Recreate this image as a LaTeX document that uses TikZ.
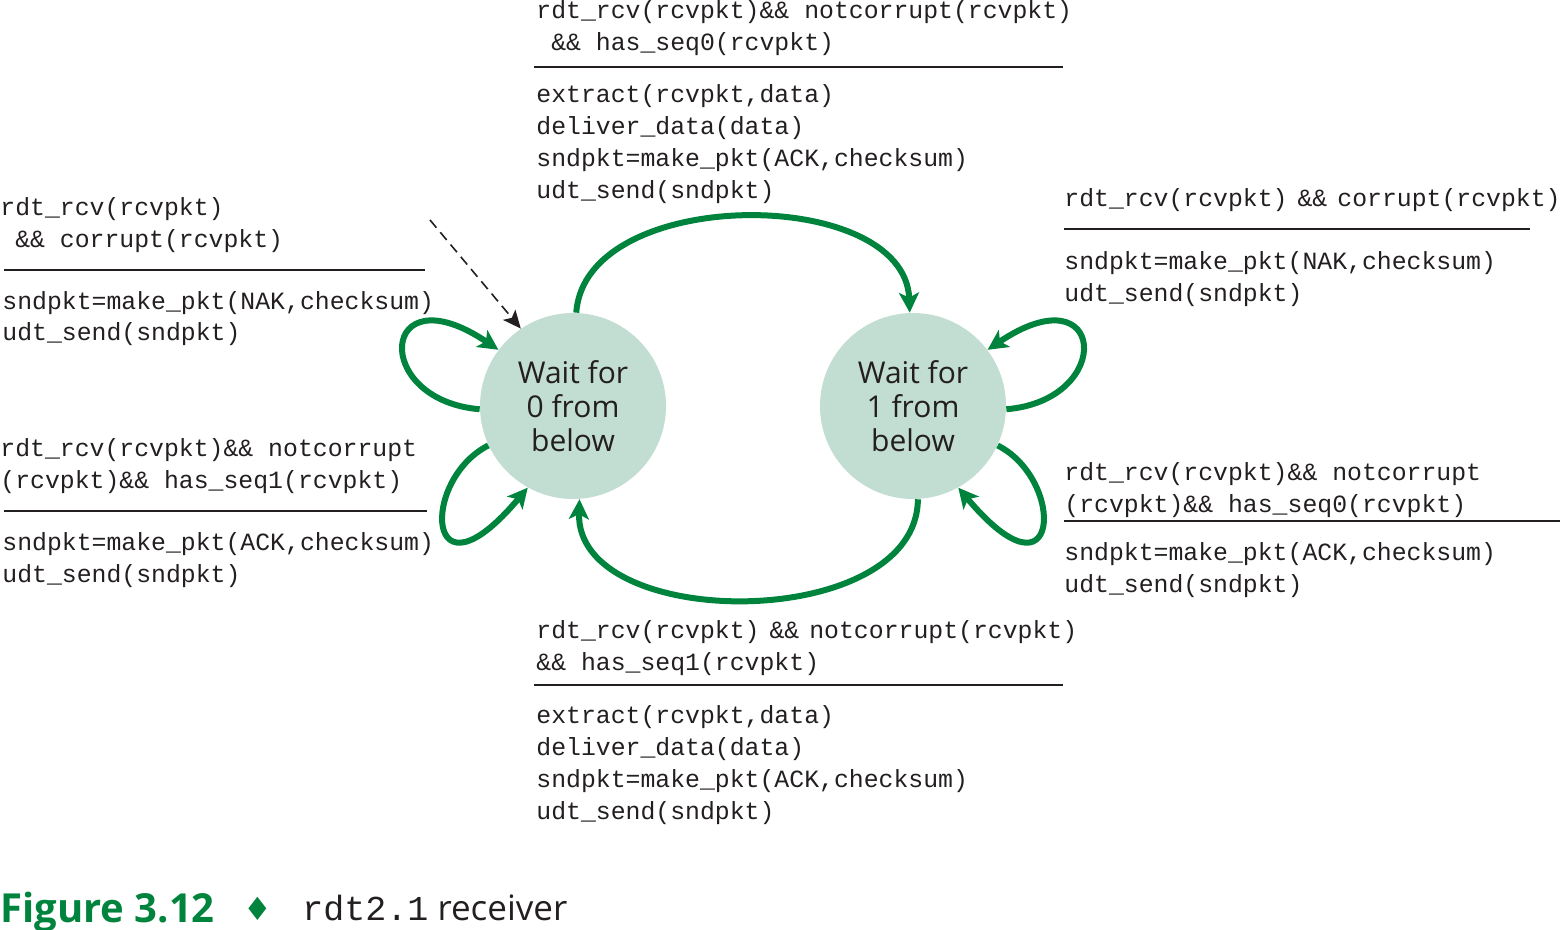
\documentclass[tikz,border=0pt]{standalone}
\usepackage{fontspec}
\setmainfont{Open Sans}
\setsansfont{Open Sans}
\setmonofont{Liberation Mono}
\newfontfamily\symbolfont{DejaVu Sans}
\usepackage{xcolor}
\usetikzlibrary{arrows.meta, calc, positioning}
\definecolor{fsmgreen}{HTML}{00843D}
\definecolor{statefill}{HTML}{C2DDD2}
\definecolor{inkblack}{HTML}{231F20}
\newcommand{\tsp}{\hspace{5pt}}

\tikzset{
  state/.style={circle, fill=statefill, minimum size=93pt, inner sep=0pt,
    align=center, text=inkblack, font=\fontsize{15}{17}\selectfont},
  trans/.style={draw=fsmgreen, line width=3pt,
    -{Stealth[length=10pt, width=10pt, inset=2.5pt]}},
  % anchored at the baseline of the last line
  code/.style={anchor=base west, inner sep=0pt, align=left, text=inkblack,
    font=\ttfamily\fontsize{12.4}{16}\selectfont},
  guardrule/.style={draw=inkblack, line width=1pt},
}

\begin{document}
\begin{tikzpicture}[x=0.5pt, y=-0.5pt]
\useasboundingbox (0,0) rectangle (1561,930);

\node[state] (W0) at (573,406) {Wait for\\0 from\\below};
\node[state] (W1) at (913,406) {Wait for\\1 from\\below};

% guards and actions
\node[code] (g01) at (536,51) {rdt\_rcv(rcvpkt)\&\&~notcorrupt(rcvpkt)\\\hphantom{x}\&\&~has\_seq0(rcvpkt)};
\draw[guardrule] (534,67) -- (1063,67);
\node[code] (a01) at (536,199) {extract(rcvpkt,data)\\deliver\_data(data)\\sndpkt=make\_pkt(ACK,checksum)\\udt\_send(sndpkt)};

\node[code] (g00) at (0,248) {rdt\_rcv(rcvpkt)\\\hphantom{x}\&\&~corrupt(rcvpkt)};
\draw[guardrule] (4,270) -- (425,270);
\node[code] (a00) at (2,341) {sndpkt=make\_pkt(NAK,checksum)\\udt\_send(sndpkt)};

\node[code] (g0d) at (0,488) {rdt\_rcv(rcvpkt)\&\&~notcorrupt\\(rcvpkt)\&\&~has\_seq1(rcvpkt)};
\draw[guardrule] (4,511) -- (427,511);
\node[code] (a0d) at (2,582) {sndpkt=make\_pkt(ACK,checksum)\\udt\_send(sndpkt)};

\node[code] (g11) at (1064,207) {rdt\_rcv(rcvpkt)\tsp\&\&\tsp corrupt(rcvpkt)};
\draw[guardrule] (1064,229) -- (1530,229);
\node[code] (a11) at (1064,301) {sndpkt=make\_pkt(NAK,checksum)\\udt\_send(sndpkt)};

\node[code] (g1d) at (1064,512) {rdt\_rcv(rcvpkt)\&\&~notcorrupt\\(rcvpkt)\&\&~has\_seq0(rcvpkt)};
\draw[guardrule] (1064,521) -- (1560,521);
\node[code] (a1d) at (1064,592) {sndpkt=make\_pkt(ACK,checksum)\\udt\_send(sndpkt)};

\node[code] (g10) at (536,670) {rdt\_rcv(rcvpkt)\tsp\&\&\tsp notcorrupt(rcvpkt)\\\&\&~has\_seq1(rcvpkt)};
\draw[guardrule] (534,685) -- (1063,685);
\node[code] (a10) at (536,819) {extract(rcvpkt,data)\\deliver\_data(data)\\sndpkt=make\_pkt(ACK,checksum)\\udt\_send(sndpkt)};

% transitions
\coordinate (init) at (430,220);
\draw[dashed, dash pattern=on 5pt off 3pt, line width=0.8pt, draw=inkblack,
  -{Stealth[length=9pt, width=8pt, inset=2pt]}] (init) -- (W0.124);
\draw[trans] (W0.88) .. controls (585,185) and (905,185) .. (W1.92);
\draw[trans] (W1.-87) .. controls (917,633) and (575,633) .. (W0.-86);
\draw[trans] (W0.182) .. controls (370,400) and (380,270) .. (W0.143);
\draw[trans] (W0.205) .. controls (420,480) and (425,610) .. (W0.241);
\draw[trans] (W1.-2) .. controls (1116,400) and (1106,270) .. (W1.37);
\draw[trans] (W1.-25) .. controls (1066,480) and (1061,610) .. (W1.-61);

% caption
\node[anchor=base west, inner sep=0pt, text=fsmgreen, font=\bfseries\fontsize{20}{24}\selectfont] (figno) at (0,922) {Figure 3.12};
\node[anchor=base, inner sep=0pt, text=fsmgreen, font=\symbolfont\fontsize{16}{20}\selectfont] (figsep) at (258,920) {♦};
\node[anchor=base west, inner sep=0pt, text=inkblack, font=\fontsize{17.5}{21}\selectfont] (figtitle) at (302,920) {{\ttfamily rdt2.1} receiver};
\end{tikzpicture}
\end{document}
